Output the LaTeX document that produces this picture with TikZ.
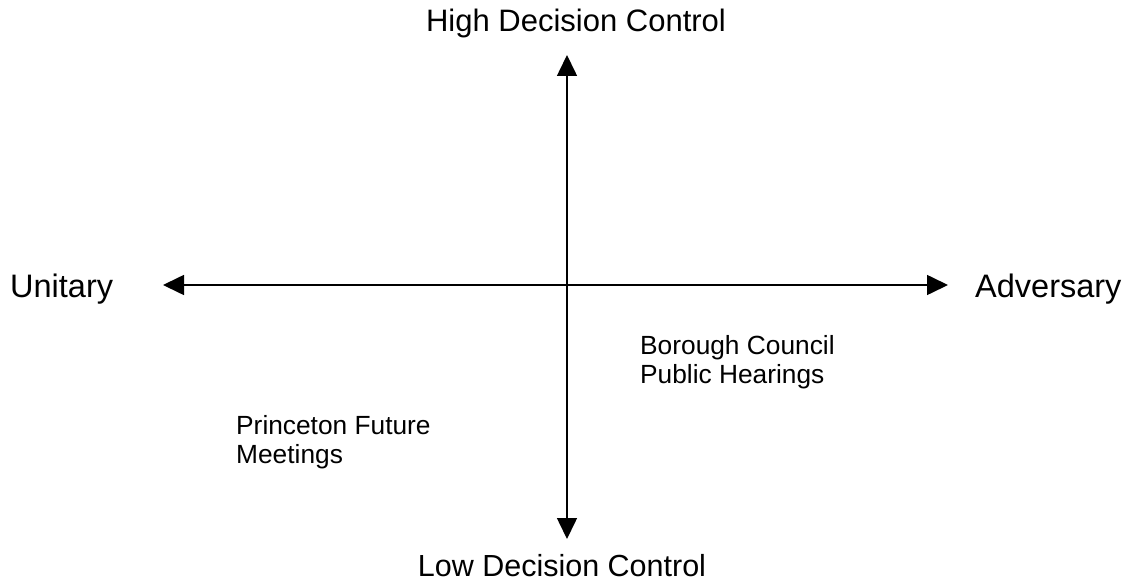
\documentclass[tikz,border=0pt]{standalone}
\usepackage{fontspec}
\setmainfont{Liberation Sans}
\usetikzlibrary{arrows.meta}
\begin{document}
\begin{tikzpicture}[x=1pt,y=-1pt,
  axis/.style={line width=1.6pt,{Triangle[width=20pt,length=21pt]}-{Triangle[width=20pt,length=21pt]}},
  biglabel/.style={inner sep=0pt,font=\fontsize{31}{35}\selectfont},
  sidelabel/.style={inner sep=0pt,anchor=base west,font=\fontsize{32.5}{37}\selectfont},
  smalllabel/.style={inner sep=0pt,align=left,anchor=north west,font=\fontsize{26.3}{29}\selectfont}]
\useasboundingbox (0,0) rectangle (1138,583);
\coordinate (top) at (567,55);
\coordinate (bottom) at (567,539);
\coordinate (left) at (163,285);
\coordinate (right) at (948,285);
\draw[axis] (bottom) -- (top);
\draw[axis] (left) -- (right);
\node[biglabel,anchor=base] (high) at (576,32) {High Decision Control};
\node[biglabel,anchor=base,font=\fontsize{30.5}{35}\selectfont] (low) at (562,576) {Low Decision Control};
\node[sidelabel] (unitary) at (10,297) {Unitary};
\node[sidelabel] (adversary) at (975,297) {Adversary};
\node[smalllabel] (borough) at (640,335) {Borough Council\\Public Hearings};
\node[smalllabel] (princeton) at (236,415) {Princeton Future\\Meetings};
\end{tikzpicture}
\end{document}
